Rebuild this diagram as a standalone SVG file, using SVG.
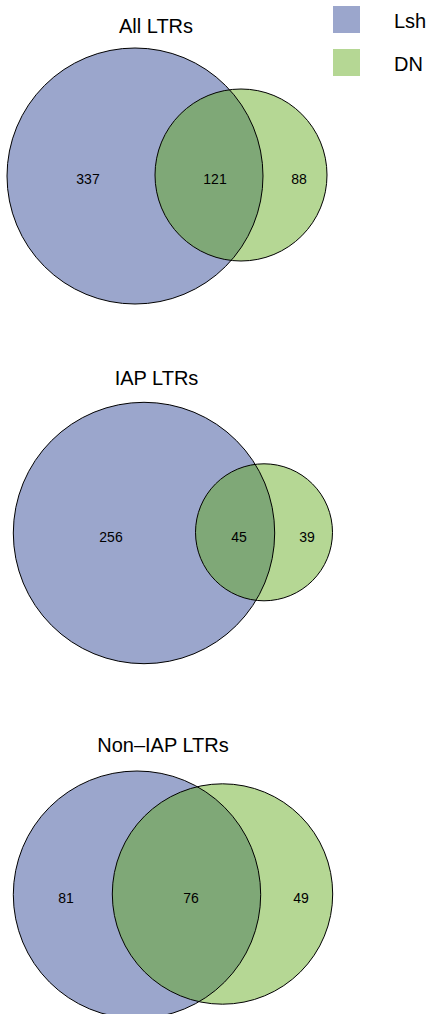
<svg xmlns="http://www.w3.org/2000/svg" width="430" height="1014" viewBox="0 0 430 1014">
  <style>
    .lsh { fill: #9ba6cc; }
    .dn { fill: #b5d794; }
    .both { fill: #7fa877; }
    .edge { fill: none; stroke: #000; stroke-width: 1; }
    .title { font-family: "Liberation Sans", Arial, sans-serif; font-size: 20px; fill: #000; text-anchor: middle; }
    .count { font-family: "Liberation Sans", Arial, sans-serif; font-size: 14px; fill: #000; text-anchor: middle; }
    .key { font-family: "Liberation Sans", Arial, sans-serif; font-size: 20px; fill: #000; }
  </style>
  <defs>
    <clipPath id="clip-all"><circle cx="241" cy="175" r="86"/></clipPath>
    <clipPath id="clip-iap"><circle cx="264" cy="532.3" r="68.5"/></clipPath>
    <clipPath id="clip-non"><circle cx="222.5" cy="894" r="110.2"/></clipPath>
  </defs>
  <rect width="430" height="1014" fill="#fff"/>

  <!-- legend -->
  <g id="legend">
    <rect class="lsh" x="333" y="6" width="27" height="27"/>
    <text class="key" x="394" y="28">Lsh</text>
    <rect class="dn" x="333" y="49" width="27" height="27"/>
    <text class="key" x="394" y="71">DN</text>
  </g>

  <!-- All LTRs -->
  <g id="venn-all">
    <text class="title" x="156" y="33">All LTRs</text>
    <circle class="lsh" cx="135" cy="176" r="128"/>
    <circle class="dn" cx="241" cy="175" r="86"/>
    <circle class="both" cx="135" cy="176" r="128" clip-path="url(#clip-all)"/>
    <circle class="edge" cx="135" cy="176" r="128"/>
    <circle class="edge" cx="241" cy="175" r="86"/>
    <text class="count" x="88" y="184">337</text>
    <text class="count" x="215" y="184">121</text>
    <text class="count" x="299" y="184">88</text>
  </g>

  <!-- IAP LTRs -->
  <g id="venn-iap">
    <text class="title" x="156.5" y="385">IAP LTRs</text>
    <circle class="lsh" cx="144" cy="533" r="130.7"/>
    <circle class="dn" cx="264" cy="532.3" r="68.5"/>
    <circle class="both" cx="144" cy="533" r="130.7" clip-path="url(#clip-iap)"/>
    <circle class="edge" cx="144" cy="533" r="130.7"/>
    <circle class="edge" cx="264" cy="532.3" r="68.5"/>
    <text class="count" x="111" y="541.5">256</text>
    <text class="count" x="239" y="541.5">45</text>
    <text class="count" x="307" y="541.5">39</text>
  </g>

  <!-- Non-IAP LTRs -->
  <g id="venn-non-iap">
    <text class="title" x="163" y="752">Non–IAP LTRs</text>
    <circle class="lsh" cx="137" cy="894.7" r="123.7"/>
    <circle class="dn" cx="222.5" cy="894" r="110.2"/>
    <circle class="both" cx="137" cy="894.7" r="123.7" clip-path="url(#clip-non)"/>
    <circle class="edge" cx="137" cy="894.7" r="123.7"/>
    <circle class="edge" cx="222.5" cy="894" r="110.2"/>
    <text class="count" x="66" y="903">81</text>
    <text class="count" x="191" y="903">76</text>
    <text class="count" x="301" y="903">49</text>
  </g>
</svg>
